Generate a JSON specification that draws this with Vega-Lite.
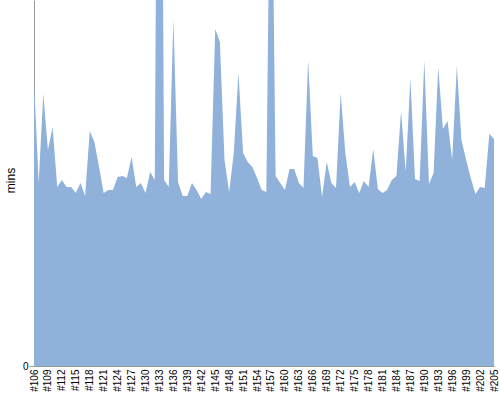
{
  "$schema": "https://vega.github.io/schema/vega-lite/v6.json",
  "autosize": "none",
  "width": 460,
  "height": 366,
  "padding": {"left": 34, "top": 0, "right": 6, "bottom": 34},
  "background": "white",
  "data": {"values": [
    {"build": "#106", "mins": 286}, {"build": "#107", "mins": 183}, {"build": "#108", "mins": 272}, {"build": "#109", "mins": 216},
    {"build": "#110", "mins": 239}, {"build": "#111", "mins": 179}, {"build": "#112", "mins": 186}, {"build": "#113", "mins": 179},
    {"build": "#114", "mins": 179}, {"build": "#115", "mins": 173}, {"build": "#116", "mins": 183}, {"build": "#117", "mins": 170},
    {"build": "#118", "mins": 235}, {"build": "#119", "mins": 224}, {"build": "#120", "mins": 199}, {"build": "#121", "mins": 173},
    {"build": "#122", "mins": 176}, {"build": "#123", "mins": 176}, {"build": "#124", "mins": 189}, {"build": "#125", "mins": 190},
    {"build": "#126", "mins": 188}, {"build": "#127", "mins": 209}, {"build": "#128", "mins": 179}, {"build": "#129", "mins": 183},
    {"build": "#130", "mins": 173}, {"build": "#131", "mins": 194}, {"build": "#132", "mins": 186}, {"build": "#133", "mins": 1030},
    {"build": "#134", "mins": 186}, {"build": "#135", "mins": 179}, {"build": "#136", "mins": 347}, {"build": "#137", "mins": 184},
    {"build": "#138", "mins": 170}, {"build": "#139", "mins": 170}, {"build": "#140", "mins": 183}, {"build": "#141", "mins": 176},
    {"build": "#142", "mins": 167}, {"build": "#143", "mins": 174}, {"build": "#144", "mins": 172}, {"build": "#145", "mins": 337},
    {"build": "#146", "mins": 324}, {"build": "#147", "mins": 206}, {"build": "#148", "mins": 174}, {"build": "#149", "mins": 213},
    {"build": "#150", "mins": 293}, {"build": "#151", "mins": 213}, {"build": "#152", "mins": 204}, {"build": "#153", "mins": 199},
    {"build": "#154", "mins": 188}, {"build": "#155", "mins": 176}, {"build": "#156", "mins": 174}, {"build": "#157", "mins": 600},
    {"build": "#158", "mins": 190}, {"build": "#159", "mins": 183}, {"build": "#160", "mins": 176}, {"build": "#161", "mins": 197},
    {"build": "#162", "mins": 197}, {"build": "#163", "mins": 183}, {"build": "#164", "mins": 178}, {"build": "#165", "mins": 306},
    {"build": "#166", "mins": 210}, {"build": "#167", "mins": 208}, {"build": "#168", "mins": 169}, {"build": "#169", "mins": 204},
    {"build": "#170", "mins": 183}, {"build": "#171", "mins": 178}, {"build": "#172", "mins": 273}, {"build": "#173", "mins": 213},
    {"build": "#174", "mins": 179}, {"build": "#175", "mins": 184}, {"build": "#176", "mins": 173}, {"build": "#177", "mins": 185},
    {"build": "#178", "mins": 179}, {"build": "#179", "mins": 217}, {"build": "#180", "mins": 177}, {"build": "#181", "mins": 173},
    {"build": "#182", "mins": 176}, {"build": "#183", "mins": 186}, {"build": "#184", "mins": 190}, {"build": "#185", "mins": 255},
    {"build": "#186", "mins": 194}, {"build": "#187", "mins": 288}, {"build": "#188", "mins": 187}, {"build": "#189", "mins": 185},
    {"build": "#190", "mins": 306}, {"build": "#191", "mins": 182}, {"build": "#192", "mins": 193}, {"build": "#193", "mins": 299},
    {"build": "#194", "mins": 237}, {"build": "#195", "mins": 245}, {"build": "#196", "mins": 206}, {"build": "#197", "mins": 300},
    {"build": "#198", "mins": 226}, {"build": "#199", "mins": 206}, {"build": "#200", "mins": 188}, {"build": "#201", "mins": 172},
    {"build": "#202", "mins": 179}, {"build": "#203", "mins": 178}, {"build": "#204", "mins": 232}, {"build": "#205", "mins": 227}
  ]},
  "mark": {"type": "area", "clip": true, "color": "#8fb1da", "opacity": 1},
  "encoding": {
    "x": {
      "field": "build", "type": "ordinal", "sort": null,
      "scale": {"type": "point", "padding": 0},
      "axis": {
        "title": null,
        "values": ["#106","#109","#112","#115","#118","#121","#124","#127","#130","#133","#136","#139","#142","#145","#148","#151","#154","#157","#160","#163","#166","#169","#172","#175","#178","#181","#184","#187","#190","#193","#196","#199","#202","#205"],
        "labelAngle": 270, "labelAlign": "right", "labelBaseline": "middle",
        "ticks": false, "labelPadding": 3, "grid": false,
        "labelFont": "Liberation Sans", "labelFontSize": 10, "labelColor": "#000",
        "domainColor": "#999", "labelOverlap": false
      }
    },
    "y": {
      "field": "mins", "type": "quantitative",
      "scale": {"domain": [0, 366], "nice": false},
      "axis": {
        "values": [0], "grid": false, "title": "mins",
        "tickSize": 5, "tickColor": "#999", "domainColor": "#999",
        "labelPadding": 1, "labelFont": "Liberation Sans", "labelFontSize": 10, "labelColor": "#000",
        "titleFont": "Liberation Sans", "titleFontSize": 12, "titleFontWeight": "normal", "titleColor": "#000",
        "titleX": -20, "titleY": 180, "titleAngle": 270, "titleAlign": "center", "titleBaseline": "alphabetic"
      }
    }
  },
  "config": {"view": {"stroke": null}}
}
